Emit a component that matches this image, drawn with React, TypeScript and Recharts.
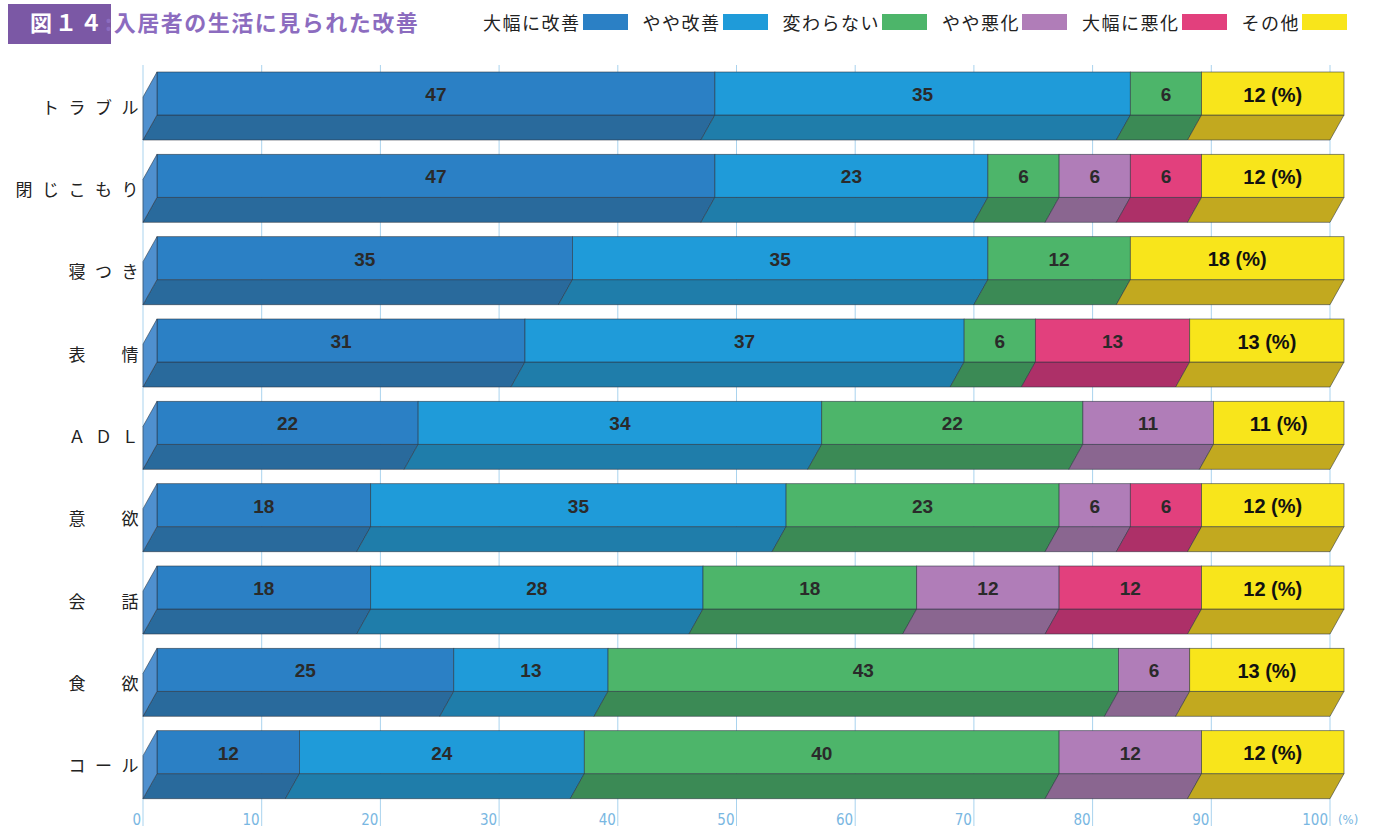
import { Bar, BarChart, CartesianGrid, LabelList, XAxis, YAxis } from "recharts"

const categories = ["トラブル", "閉じこもり", "寝つき", "表　情", "ＡＤＬ", "意　欲", "会　話", "食　欲", "コール"]
const greatlyImproved = [47, 47, 35, 31, 22, 18, 18, 25, 12]
const slightlyImproved = [35, 23, 35, 37, 34, 35, 28, 13, 24]
const unchanged = [6, 6, 12, 6, 22, 23, 18, 43, 40]
const slightlyWorse = [0, 6, 0, 0, 11, 6, 12, 6, 12]
const greatlyWorse = [0, 6, 0, 13, 0, 6, 12, 0, 0]
const other = [12, 12, 18, 13, 11, 12, 12, 13, 12]
const xTicks = [0, 10, 20, 30, 40, 50, 60, 70, 80, 90, 100]

interface SeriesDef {
  key: string
  label: string
  front: string
  bottom: string
}

const SERIES: SeriesDef[] = [
  { key: "greatlyImproved", label: "大幅に改善", front: "#2b80c5", bottom: "#296a9c" },
  { key: "slightlyImproved", label: "やや改善", front: "#1f9bd9", bottom: "#1f7daa" },
  { key: "unchanged", label: "変わらない", front: "#4db56a", bottom: "#3b8a55" },
  { key: "slightlyWorse", label: "やや悪化", front: "#b07db8", bottom: "#8a6690" },
  { key: "greatlyWorse", label: "大幅に悪化", front: "#e2407d", bottom: "#ad3068" },
  { key: "other", label: "その他", front: "#f8e51b", bottom: "#c2a91f" },
]

const data = categories.map((name, i) => ({
  name,
  greatlyImproved: greatlyImproved[i],
  slightlyImproved: slightlyImproved[i],
  unchanged: unchanged[i],
  slightlyWorse: slightlyWorse[i],
  greatlyWorse: greatlyWorse[i],
  other: other[i],
}))

// 3D offsets: front face shifted right, bottom face slants down-left
const DX = 14
const DY = 25
const EDGE = "#2b3440"
const FONT = "'Noto Sans CJK JP', 'Noto Sans', sans-serif"
const NUM_FONT = "'Liberation Sans', Arial, sans-serif"

function Bar3D(props: any) {
  const { x, y, width, height, series, first } = props
  if (!width || width <= 0) return null
  const fh = height - DY
  return (
    <g>
      <polygon
        points={`${x + DX},${y + fh} ${x + DX + width},${y + fh} ${x + width},${y + height} ${x},${y + height}`}
        fill={series.bottom}
        stroke={EDGE}
        strokeWidth={0.8}
        strokeOpacity={0.7}
      />
      <rect x={x + DX} y={y} width={width} height={fh} fill={series.front} stroke={EDGE} strokeWidth={0.8} strokeOpacity={0.7} />
      {first ? (
        <polygon
          points={`${x + DX},${y} ${x},${y + DY} ${x},${y + height} ${x + DX},${y + fh}`}
          fill="#4f90cf"
          stroke={EDGE}
          strokeWidth={0.8}
          strokeOpacity={0.7}
        />
      ) : null}
    </g>
  )
}

function BarValue(props: any) {
  const { x, y, width, height, value, isLast } = props
  if (!value) return null
  return (
    <text
      x={x + DX + width / 2}
      y={y + (height - DY) / 2 + 1}
      textAnchor="middle"
      dominantBaseline="central"
      fontFamily={NUM_FONT}
      fontWeight={700}
      fontSize={isLast ? 20 : 19}
      fill={isLast ? "#111" : "#2a2a2a"}
    >
      {isLast ? `${value} (%)` : value}
    </text>
  )
}

function CategoryTick(props: any) {
  const { y, payload } = props
  return (
    <text x={148} y={y} textAnchor="end" dominantBaseline="central" fontFamily={FONT} fontSize={17} letterSpacing={9.5} fill="#222">
      {payload.value}
    </text>
  )
}

function PercentTick(props: any) {
  const { x, payload } = props
  const style = { fontFamily: "'Liberation Sans Narrow', 'DejaVu Sans Condensed', sans-serif", fontSize: 15, fill: "#79b7e2" }
  return (
    <g>
      <text x={x - 2} y={825} textAnchor="end" {...style}>
        {payload.value}
      </text>
      {payload.value === 100 ? (
        <text x={x + 8} y={824} textAnchor="start" {...style} fontSize={13}>
          (%)
        </text>
      ) : null}
    </g>
  )
}

export default function App() {
  return (
    <div style={{ position: "absolute", left: 0, top: 0, width: 1396, height: 828, background: "#fff", fontFamily: FONT }}>
      <div style={{ position: "absolute", left: 8, top: 4, width: 103, height: 40, background: "#7b58a5" }} />
      <div style={{ position: "absolute", left: 30, top: 2, fontSize: 22, fontWeight: 700, lineHeight: "38px", whiteSpace: "nowrap" }}>
        <span style={{ color: "#fff", letterSpacing: 3 }}>図１４</span>
        <span style={{ color: "#8c6cbf", letterSpacing: 1.5 }}>:入居者の生活に見られた改善</span>
      </div>
      <div style={{ position: "absolute", left: 483, top: 9, display: "flex", alignItems: "center", whiteSpace: "nowrap" }}>
        {SERIES.map((s) => (
          <div key={s.key} style={{ display: "flex", alignItems: "center", marginRight: 15 }}>
            <span style={{ fontSize: 18, letterSpacing: 1.5, color: "#222" }}>{s.label}</span>
            <span style={{ display: "inline-block", width: 45, height: 16, background: s.front, marginLeft: 2 }} />
          </div>
        ))}
      </div>
      <BarChart
        width={1396}
        height={828}
        data={data}
        layout="vertical"
        margin={{ top: 65, right: 66, bottom: 0, left: 0 }}
        barSize={68}
        style={{ position: "absolute", left: 0, top: 0 }}
      >
        <CartesianGrid horizontal={false} stroke="#a9d3ee" strokeWidth={1} />
        <XAxis
          type="number"
          domain={[0, 100]}
          ticks={xTicks}
          axisLine={false}
          tickLine={{ stroke: "#a9d3ee" }}
          tickSize={20}
          height={22}
          tick={<PercentTick />}
          interval={0}
        />
        <YAxis type="category" dataKey="name" width={143} axisLine={false} tickLine={false} tick={<CategoryTick />} interval={0} />
        {SERIES.map((s, i) => (
          <Bar
            key={s.key}
            dataKey={s.key}
            stackId="a"
            isAnimationActive={false}
            shape={(p: any) => <Bar3D {...p} series={s} first={i === 0} />}
          >
            <LabelList dataKey={s.key} content={(p: any) => <BarValue {...p} isLast={i === SERIES.length - 1} />} />
          </Bar>
        ))}
      </BarChart>
    </div>
  )
}
